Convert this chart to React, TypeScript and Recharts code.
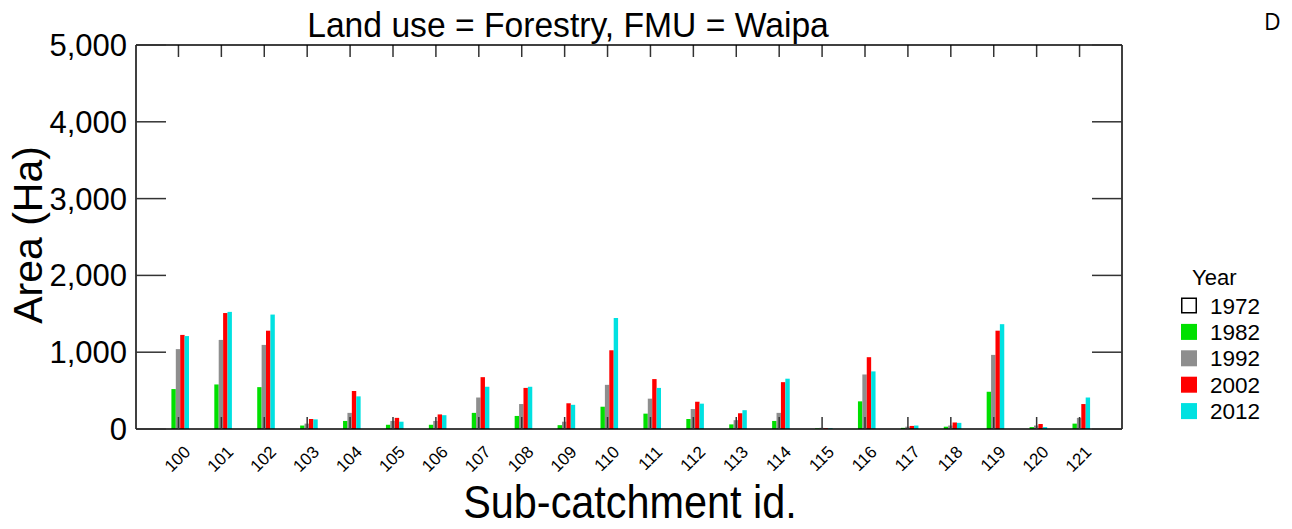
import { BarChart, Bar, XAxis, YAxis, Legend, Label, ReferenceLine } from 'recharts';

const FONT = '"Liberation Sans", Arial, sans-serif';
const Y_MAX = 5000;
const TOP_TICK_LEN = 156; // ~12px in value units

// sub-catchment ids on the x axis
const SUB_CATCHMENTS = [
  '100', '101', '102', '103', '104', '105', '106', '107', '108', '109', '110',
  '111', '112', '113', '114', '115', '116', '117', '118', '119', '120', '121',
];

// forestry area (Ha) per survey year
const AREA_1972 = [0, 0, 0, 0, 0, 0, 0, 0, 0, 0, 0, 0, 0, 0, 0, 0, 0, 0, 0, 0, 0, 0];
const AREA_1982 = [520, 580, 545, 45, 105, 55, 55, 210, 170, 50, 290, 200, 130, 60, 105, 8, 360, 15, 30, 485, 25, 70];
const AREA_1992 = [1040, 1160, 1095, 70, 210, 105, 105, 410, 325, 95, 575, 395, 260, 115, 210, 15, 710, 30, 45, 965, 45, 145];
const AREA_2002 = [1225, 1510, 1280, 130, 495, 145, 190, 675, 535, 335, 1025, 650, 355, 205, 610, 10, 935, 40, 85, 1280, 65, 325];
const AREA_2012 = [1210, 1525, 1490, 125, 425, 95, 180, 550, 550, 315, 1445, 535, 330, 245, 655, 10, 750, 45, 80, 1365, 25, 410];

const Y_TICKS = [0, 1000, 2000, 3000, 4000, 5000];

const SERIES = [
  { key: 'y1972', name: '1972', values: AREA_1972, fill: '#ffffff', stroke: '#000000' },
  { key: 'y1982', name: '1982', values: AREA_1982, fill: '#00e000', stroke: 'none' },
  { key: 'y1992', name: '1992', values: AREA_1992, fill: '#8e8e8e', stroke: 'none' },
  { key: 'y2002', name: '2002', values: AREA_2002, fill: '#ff0000', stroke: 'none' },
  { key: 'y2012', name: '2012', values: AREA_2012, fill: '#00e1e1', stroke: 'none' },
];

const data = SUB_CATCHMENTS.map((id, i) => {
  const row: Record<string, string | number> = { id };
  SERIES.forEach((s) => {
    row[s.key] = s.values[i];
  });
  return row;
});

function XTick({ x, y, payload }: any) {
  const tx = x + 13;
  return (
    <text
      x={tx}
      y={y}
      transform={`rotate(-45, ${tx}, ${y})`}
      textAnchor="end"
      fontSize={17}
      fontFamily={FONT}
      fill="#000"
    >
      {payload.value}
    </text>
  );
}

// frame axes: keep the tick marks, draw no labels
function NoLabel() {
  return <g />;
}

function renderLegend() {
  return (
    <svg width={120} height={170} style={{ display: 'block' }}>
      <text x={22} y={25} fontSize={22} fontFamily={FONT} fill="#000">
        Year
      </text>
      {SERIES.map((s, i) => {
        const cy = 45.5 + i * 26.4;
        return (
          <g key={s.key}>
            <rect
              x={11.75}
              y={cy - 7.25}
              width={14.5}
              height={14.5}
              fill={s.fill}
              stroke={s.stroke === 'none' ? s.fill : s.stroke}
              strokeWidth={1.5}
            />
            <text x={40} y={cy + 8} fontSize={22.5} fontFamily={FONT} fill="#000">
              {s.name}
            </text>
          </g>
        );
      })}
    </svg>
  );
}

export default function App() {
  return (
    <div style={{ position: 'absolute', left: 0, top: 0, width: 1292, height: 529, background: '#fff' }}>
      <BarChart
        width={1292}
        height={529}
        data={data}
        margin={{ top: 15, right: 169, bottom: 0, left: 0 }}
        barGap={0}
        barSize={4.4}
      >
        <XAxis
          dataKey="id"
          height={100}
          padding={{ left: 21, right: 21 }}
          axisLine={{ stroke: '#000', strokeWidth: 1.5 }}
          tickLine={{ stroke: '#333', strokeWidth: 1.5 }}
          tickSize={-12}
          tickMargin={36}
          tick={<XTick />}
          interval={0}
        >
          <Label
            content={(props: any) => {
              const vb = props.viewBox || { x: 136, y: 429, width: 986 };
              const cx = vb.x + vb.width / 2 + 1;
              const cy = vb.y + 89;
              return (
                <text
                  transform={`translate(${cx}, ${cy}) scale(0.9, 1)`}
                  textAnchor="middle"
                  fontSize={46}
                  fontFamily={FONT}
                  fill="#000"
                >
                  Sub-catchment id.
                </text>
              );
            }}
          />
        </XAxis>
        <XAxis
          xAxisId="top"
          dataKey="id"
          orientation="top"
          height={30}
          padding={{ left: 21, right: 21 }}
          axisLine={{ stroke: '#000', strokeWidth: 1.5 }}
          tickLine={false}
          tick={false}
        />
        <YAxis
          width={136}
          domain={[0, Y_MAX]}
          ticks={Y_TICKS}
          interval={0}
          axisLine={{ stroke: '#000', strokeWidth: 1.5 }}
          tickLine={{ stroke: '#333', strokeWidth: 1.5 }}
          tickSize={-30}
          tickMargin={39}
          tick={{ fontSize: 31, fontFamily: FONT, fill: '#000' }}
          tickFormatter={(v: number) => v.toLocaleString('en-US')}
        >
          <Label
            content={(props: any) => {
              const vb = props.viewBox || { x: 0, y: 45, height: 384 };
              const cx = vb.x + 42;
              const cy = vb.y + vb.height / 2 - 2;
              return (
                <text
                  x={cx}
                  y={cy}
                  transform={`rotate(-90, ${cx}, ${cy})`}
                  textAnchor="middle"
                  fontSize={41}
                  fontFamily={FONT}
                  fill="#000"
                >
                  Area (Ha)
                </text>
              );
            }}
          />
        </YAxis>
        <YAxis
          yAxisId="right"
          orientation="right"
          width={1}
          domain={[0, Y_MAX]}
          ticks={Y_TICKS}
          interval={0}
          axisLine={{ stroke: '#000', strokeWidth: 1.5 }}
          tickLine={{ stroke: '#333', strokeWidth: 1.5 }}
          tickSize={-30}
          tick={<NoLabel />}
        />
        <Legend
          layout="vertical"
          align="center"
          verticalAlign="middle"
          content={renderLegend}
          wrapperStyle={{ left: 1170, top: 260, width: 120, height: 170 }}
        />
        {/* inward tick marks hanging from the top edge of the frame */}
        {SUB_CATCHMENTS.map((id) => (
          <ReferenceLine
            key={`top-${id}`}
            segment={[
              { x: id, y: Y_MAX },
              { x: id, y: Y_MAX - TOP_TICK_LEN },
            ]}
            stroke="#333"
            strokeWidth={1.5}
          />
        ))}
        {SERIES.map((s) => (
          <Bar
            key={s.key}
            dataKey={s.key}
            name={s.name}
            fill={s.fill}
            stroke={s.stroke}
            isAnimationActive={false}
          />
        ))}
        {/* zero-height series so the top and right frame axes get a scale */}
        <Bar
          dataKey="y1972"
          xAxisId="top"
          yAxisId="right"
          fill="none"
          legendType="none"
          isAnimationActive={false}
        />
      </BarChart>
      <svg
        width={1292}
        height={60}
        style={{ position: 'absolute', left: 0, top: 0, pointerEvents: 'none' }}
      >
        <text
          transform="translate(568, 37) scale(0.935, 1)"
          textAnchor="middle"
          fontSize={36}
          fontFamily={FONT}
          fill="#000"
        >
          Land use = Forestry, FMU = Waipa
        </text>
        <text x={1264} y={30} fontSize={23} fontFamily='"Open Sans", sans-serif' fill="#000">
          D
        </text>
      </svg>
    </div>
  );
}
